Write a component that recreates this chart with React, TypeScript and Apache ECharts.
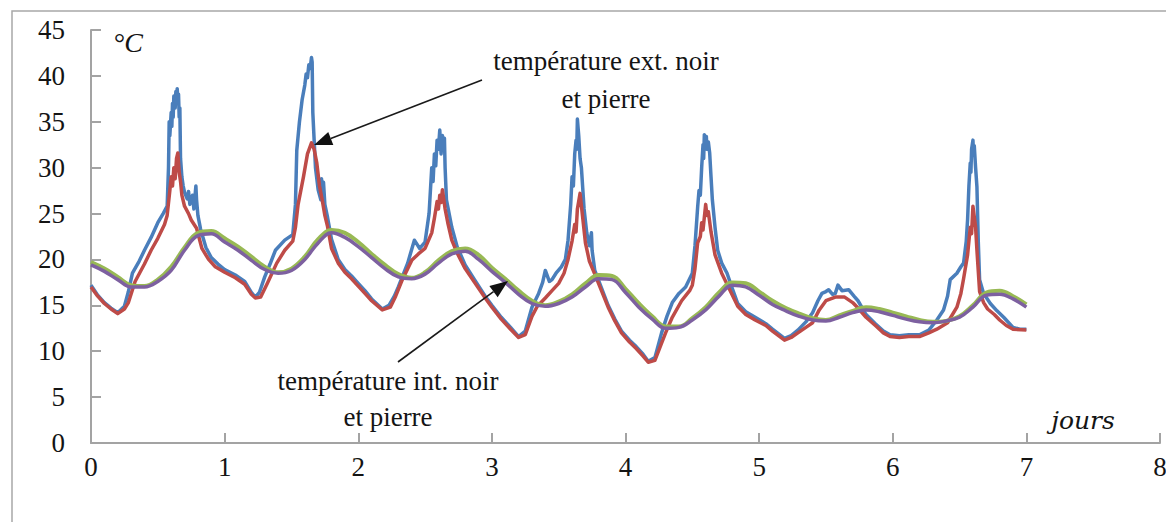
import React, { useEffect, useRef } from "react";
import * as echarts from "echarts";

// Outside surface temperature, black panel (day, °C)
const extNoir: [number, number][] = [
  [0, 17.2], [0.05, 16.1], [0.1, 15.3], [0.15, 14.7], [0.2, 14.2], [0.25, 14.9], [0.28, 16.5],
  [0.31, 18.5], [0.36, 19.8], [0.4, 21.0], [0.45, 22.4], [0.5, 24.0], [0.54, 25.0], [0.57, 25.8],
  [0.58, 30.0], [0.585, 35.0], [0.59, 33.5], [0.6, 36.0], [0.605, 34.5], [0.61, 37.0], [0.615, 35.5],
  [0.62, 37.8], [0.63, 36.5], [0.635, 38.3], [0.64, 37.0], [0.645, 38.6], [0.65, 37.5], [0.655, 38.0],
  [0.66, 35.5], [0.665, 36.5], [0.67, 31.0], [0.68, 29.0], [0.69, 28.0], [0.7, 27.3], [0.72, 26.6],
  [0.73, 27.4], [0.74, 26.0], [0.76, 27.0], [0.77, 25.5], [0.785, 28.0], [0.79, 26.5], [0.8, 24.8],
  [0.82, 23.3], [0.86, 21.3], [0.9, 20.2], [0.95, 19.5], [1.0, 18.9], [1.08, 18.3], [1.15, 17.6],
  [1.2, 16.4], [1.23, 15.9], [1.26, 16.4], [1.3, 18.1], [1.34, 19.5], [1.38, 21.0], [1.45, 22.1],
  [1.51, 22.7], [1.53, 26.0], [1.54, 31.9], [1.56, 35.0], [1.58, 37.4], [1.6, 39.0], [1.61, 40.2],
  [1.62, 39.8], [1.63, 41.2], [1.64, 40.8], [1.65, 42.0], [1.655, 41.5], [1.66, 36.0], [1.67, 33.0],
  [1.68, 30.0], [1.7, 27.6], [1.72, 26.5], [1.725, 28.8], [1.735, 27.0], [1.74, 28.4], [1.75, 26.0],
  [1.77, 24.6], [1.8, 22.2], [1.85, 20.0], [1.9, 18.9], [1.95, 18.2], [2.0, 17.4], [2.05, 16.6],
  [2.1, 15.7], [2.18, 14.6], [2.23, 15.0], [2.27, 16.0], [2.3, 17.0], [2.37, 19.6], [2.42, 22.1],
  [2.46, 21.2], [2.5, 21.9], [2.53, 25.0], [2.55, 30.0], [2.56, 28.5], [2.57, 31.5], [2.58, 30.2],
  [2.59, 33.0], [2.6, 32.0], [2.61, 34.1], [2.62, 31.5], [2.63, 33.5], [2.64, 32.0], [2.645, 33.2],
  [2.65, 30.0], [2.66, 26.5], [2.68, 25.0], [2.7, 23.5], [2.74, 21.4], [2.8, 19.4], [2.87, 17.8],
  [2.95, 16.0], [3.0, 15.0], [3.07, 13.7], [3.14, 12.6], [3.2, 11.6], [3.25, 12.2], [3.3, 14.8],
  [3.35, 16.3], [3.38, 17.5], [3.4, 18.8], [3.43, 17.6], [3.45, 17.8], [3.48, 18.5], [3.52, 19.2],
  [3.55, 20.0], [3.57, 22.1], [3.59, 26.0], [3.6, 29.0], [3.61, 28.0], [3.62, 31.5], [3.63, 33.0],
  [3.635, 32.0], [3.64, 35.3], [3.65, 33.5], [3.66, 31.0], [3.67, 30.0], [3.69, 25.5], [3.71, 22.9],
  [3.73, 21.5], [3.745, 22.9], [3.75, 21.0], [3.77, 18.8], [3.82, 16.9], [3.87, 15.0], [3.92, 13.5],
  [3.97, 12.2], [4.03, 11.2], [4.08, 10.5], [4.13, 9.7], [4.17, 8.9], [4.22, 9.3], [4.27, 12.0],
  [4.31, 13.8], [4.35, 15.3], [4.4, 16.3], [4.45, 17.0], [4.5, 18.5], [4.52, 21.5], [4.54, 25.7],
  [4.55, 27.5], [4.56, 27.0], [4.57, 30.0], [4.58, 32.5], [4.585, 31.0], [4.59, 33.6], [4.6, 32.5],
  [4.605, 33.4], [4.61, 32.0], [4.62, 32.8], [4.63, 31.6], [4.64, 29.0], [4.65, 26.5], [4.67, 23.5],
  [4.69, 21.0], [4.72, 19.6], [4.76, 18.5], [4.8, 16.8], [4.84, 15.2], [4.9, 14.3], [4.97, 13.7],
  [5.05, 13.0], [5.1, 12.4], [5.19, 11.4], [5.24, 11.7], [5.29, 12.3], [5.35, 13.2], [5.4, 14.2],
  [5.44, 15.5], [5.47, 16.3], [5.5, 16.5], [5.52, 16.7], [5.55, 16.2], [5.57, 16.3], [5.59, 17.2],
  [5.62, 16.6], [5.67, 16.7], [5.71, 16.0], [5.74, 15.5], [5.8, 14.0], [5.87, 13.0], [5.93, 12.2],
  [5.98, 11.8], [6.05, 11.7], [6.12, 11.8], [6.2, 11.8], [6.27, 12.3], [6.33, 13.4], [6.38, 14.5],
  [6.41, 16.0], [6.43, 17.8], [6.48, 18.5], [6.51, 19.2], [6.53, 19.6], [6.55, 22.0], [6.56, 24.3],
  [6.57, 28.0], [6.58, 30.5], [6.585, 29.5], [6.59, 32.0], [6.6, 33.0], [6.605, 31.5], [6.61, 32.4],
  [6.62, 30.0], [6.63, 27.9], [6.64, 22.0], [6.65, 17.8], [6.68, 16.3], [6.73, 15.2], [6.78, 14.4],
  [6.83, 13.7], [6.9, 12.6], [6.95, 12.4], [7.0, 12.4],
];

// Outside surface temperature, stone panel (day, °C)
const extPierre: [number, number][] = [
  [0, 17.0], [0.05, 16.0], [0.1, 15.2], [0.15, 14.6], [0.2, 14.1], [0.25, 14.6], [0.28, 15.3],
  [0.33, 17.6], [0.4, 19.5], [0.45, 21.0], [0.5, 22.3], [0.55, 23.8], [0.57, 24.8], [0.59, 27.5],
  [0.6, 29.0], [0.61, 28.0], [0.62, 30.0], [0.63, 28.8], [0.64, 31.0], [0.65, 31.6], [0.66, 29.5],
  [0.67, 28.5], [0.68, 27.0], [0.7, 25.8], [0.73, 25.0], [0.75, 24.3], [0.79, 23.4], [0.83, 21.2],
  [0.88, 20.0], [0.93, 19.2], [1.0, 18.6], [1.08, 18.0], [1.15, 17.3], [1.2, 16.2], [1.23, 15.8],
  [1.27, 15.9], [1.32, 17.4], [1.39, 19.6], [1.45, 21.0], [1.51, 22.0], [1.53, 23.5], [1.55, 26.0],
  [1.59, 29.0], [1.62, 31.5], [1.65, 32.7], [1.67, 32.0], [1.69, 30.5], [1.71, 28.0], [1.73, 26.5],
  [1.75, 24.8], [1.77, 23.6], [1.8, 21.2], [1.85, 19.6], [1.9, 18.6], [1.95, 17.9], [2.0, 17.1],
  [2.05, 16.3], [2.1, 15.5], [2.18, 14.5], [2.24, 14.8], [2.28, 16.0], [2.33, 17.8], [2.4, 19.9],
  [2.45, 20.6], [2.5, 21.2], [2.55, 22.9], [2.57, 24.5], [2.59, 26.3], [2.6, 25.5], [2.61, 27.0],
  [2.62, 26.2], [2.63, 27.6], [2.65, 25.5], [2.67, 24.0], [2.7, 22.1], [2.74, 20.7], [2.8, 19.0],
  [2.87, 17.5], [2.95, 15.8], [3.0, 14.8], [3.07, 13.5], [3.14, 12.4], [3.2, 11.5], [3.25, 11.8],
  [3.3, 13.8], [3.34, 14.9], [3.4, 15.8], [3.45, 16.6], [3.5, 17.4], [3.54, 18.5], [3.57, 20.0],
  [3.6, 22.0], [3.62, 23.8], [3.63, 23.0], [3.64, 25.5], [3.66, 27.2], [3.68, 24.5], [3.7, 21.8],
  [3.73, 19.8], [3.77, 18.4], [3.82, 16.6], [3.87, 14.8], [3.92, 13.3], [3.97, 12.0], [4.03, 11.0],
  [4.08, 10.3], [4.13, 9.5], [4.17, 8.8], [4.22, 9.0], [4.26, 10.5], [4.3, 12.0], [4.35, 13.7],
  [4.42, 15.5], [4.48, 16.6], [4.5, 17.2], [4.52, 19.0], [4.54, 21.8], [4.56, 22.5], [4.57, 24.0],
  [4.58, 23.2], [4.6, 26.0], [4.61, 24.8], [4.62, 25.2], [4.64, 23.0], [4.67, 20.5], [4.72, 18.5],
  [4.77, 17.0], [4.84, 14.9], [4.9, 14.0], [4.97, 13.4], [5.05, 12.8], [5.1, 12.2], [5.19, 11.2],
  [5.24, 11.5], [5.29, 12.0], [5.35, 12.6], [5.4, 13.1], [5.45, 14.5], [5.5, 15.5], [5.57, 15.9],
  [5.64, 15.9], [5.7, 15.3], [5.74, 14.7], [5.8, 13.7], [5.87, 12.8], [5.93, 12.0], [5.98, 11.6],
  [6.05, 11.5], [6.12, 11.6], [6.2, 11.6], [6.27, 12.0], [6.33, 12.4], [6.41, 13.1], [6.48, 14.8],
  [6.51, 16.3], [6.53, 17.9], [6.56, 20.5], [6.58, 23.5], [6.59, 22.8], [6.6, 25.8], [6.62, 23.5],
  [6.63, 21.0], [6.65, 16.5], [6.68, 15.3], [6.71, 14.6], [6.76, 14.0], [6.8, 13.4], [6.85, 12.8],
  [6.9, 12.4], [7.0, 12.3],
];

// Sampling days for the inside temperatures
const intDays: number[] = [
  0, 0.1, 0.2, 0.3, 0.4, 0.5, 0.6, 0.7, 0.8, 0.9,
  1, 1.1, 1.2, 1.3, 1.4, 1.5, 1.6, 1.7, 1.8, 1.9,
  2, 2.1, 2.2, 2.3, 2.4, 2.5, 2.6, 2.7, 2.8, 2.9,
  3, 3.1, 3.2, 3.3, 3.4, 3.5, 3.6, 3.7, 3.8, 3.9,
  4, 4.1, 4.2, 4.3, 4.4, 4.5, 4.6, 4.7, 4.8, 4.9,
  5, 5.1, 5.2, 5.3, 5.4, 5.5, 5.6, 5.7, 5.8, 5.9,
  6, 6.1, 6.2, 6.3, 6.4, 6.5, 6.6, 6.7, 6.8, 6.9,
  7,
];

// Inside temperature, black panel (°C)
const intNoir: number[] = [
  19.7, 19.0, 18.1, 17.2, 17.1, 17.8, 19.2, 21.3, 22.9, 23.1,
  22.3, 21.4, 20.3, 19.2, 18.6, 19.0, 20.3, 22.2, 23.2, 22.9,
  21.9, 20.6, 19.4, 18.4, 18.0, 18.6, 19.9, 20.9, 21.2, 20.5,
  19.1, 17.9, 16.6, 15.5, 15.0, 15.4, 16.2, 17.4, 18.3, 18.2,
  16.8, 15.2, 13.8, 12.7, 12.7, 13.6, 14.8, 16.4, 17.5, 17.4,
  16.5, 15.5, 14.7, 14.1, 13.6, 13.4, 13.9, 14.4, 14.8, 14.6,
  14.2, 13.8, 13.4, 13.2, 13.3, 13.8, 15.0, 16.4, 16.6, 16.0,
  15.1,
];

// Inside temperature, stone panel (°C)
const intPierre: number[] = [
  19.4, 18.7, 17.8, 17.0, 17.0, 17.6, 18.8, 21.0, 22.6, 22.8,
  21.9, 21.0, 19.9, 18.9, 18.5, 18.8, 20.0, 21.8, 22.9, 22.4,
  21.4, 20.2, 19.0, 18.1, 17.9, 18.4, 19.6, 20.6, 20.9, 20.0,
  18.7, 17.5, 16.2, 15.2, 14.9, 15.2, 15.9, 17.0, 17.9, 17.8,
  16.4, 14.8, 13.5, 12.5, 12.6, 13.4, 14.5, 16.0, 17.2, 17.0,
  16.1, 15.1, 14.4, 13.8, 13.4, 13.3, 13.7, 14.2, 14.5, 14.3,
  13.9, 13.5, 13.2, 13.1, 13.3, 13.7, 14.8, 16.1, 16.2, 15.7,
  14.8,
];

const SERIF = "Liberation Serif";
const AXIS_GREY = "#a3a3a3";

function pair(days: number[], values: number[]): [number, number][] {
  return days.map((d, i) => [d, values[i]]);
}

// Filled arrowhead pointing from (x1, y1) to (x2, y2)
function arrow(x1: number, y1: number, x2: number, y2: number, len = 18, half = 7) {
  const dx = x2 - x1;
  const dy = y2 - y1;
  const l = Math.hypot(dx, dy);
  const ux = dx / l;
  const uy = dy / l;
  const bx = x2 - ux * len;
  const by = y2 - uy * len;
  const px = -uy * half;
  const py = ux * half;
  return [
    {
      type: "line",
      shape: { x1, y1, x2: bx, y2: by },
      style: { stroke: "#1a1a1a", lineWidth: 1.6 },
      silent: true,
      z: 100,
    },
    {
      type: "polygon",
      shape: { points: [[x2, y2], [bx + px, by + py], [bx - px, by - py]] },
      style: { fill: "#111" },
      silent: true,
      z: 100,
    },
  ];
}

export default function App() {
  const ref = useRef<HTMLDivElement>(null);

  useEffect(() => {
    if (!ref.current) return;
    const chart = echarts.init(ref.current, null, { renderer: "svg" });

    const lineSeries = (
      name: string,
      data: [number, number][],
      color: string,
      width: number,
      smooth: boolean | number
    ) => ({
      name,
      type: "line",
      data,
      showSymbol: false,
      symbol: "none",
      smooth,
      lineStyle: { color, width, join: "round" },
      itemStyle: { color },
      silent: true,
    });

    chart.setOption({
      animation: false,
      backgroundColor: "#ffffff",
      grid: {
        left: 91,
        top: 30,
        right: 6,
        bottom: 79,
        containLabel: false,
        outerBoundsMode: "none",
      },
      xAxis: {
        type: "value",
        min: 0,
        max: 8,
        interval: 1,
        axisLine: { show: true, onZero: false, lineStyle: { color: AXIS_GREY, width: 2 } },
        axisTick: { show: true, inside: true, length: 10, lineStyle: { color: AXIS_GREY, width: 2 } },
        splitLine: { show: false },
        axisLabel: { margin: 10, color: "#141414", fontFamily: SERIF, fontSize: 27 },
      },
      yAxis: {
        type: "value",
        min: 0,
        max: 45,
        interval: 5,
        axisLine: { show: true, lineStyle: { color: AXIS_GREY, width: 2 } },
        axisTick: { show: true, inside: true, length: 10, lineStyle: { color: AXIS_GREY, width: 2 } },
        splitLine: { show: false },
        axisLabel: { margin: 26, color: "#141414", fontFamily: SERIF, fontSize: 27 },
      },
      series: [
        lineSeries("température ext. noir", extNoir, "#4a7ebb", 3.5, false),
        lineSeries("température ext. pierre", extPierre, "#be4b48", 3.5, false),
        lineSeries("température int. noir", pair(intDays, intNoir), "#98b954", 4, 0.4),
        lineSeries("température int. pierre", pair(intDays, intPierre), "#7d60a0", 3.5, 0.4),
      ],
      graphic: [
        {
          type: "rect",
          shape: { x: 12, y: 11, width: 1300, height: 700 },
          style: { fill: "none", stroke: "#a8a8a8", lineWidth: 1.5 },
          silent: true,
          z: 100,
        },
        {
          type: "text",
          x: 128,
          y: 42,
          style: {
            text: "°C",
            font: "italic 28px Liberation Serif",
            fill: "#141414",
            align: "center",
            verticalAlign: "middle",
          },
          z: 100,
        },
        {
          type: "text",
          x: 1083,
          y: 420,
          style: {
            text: "jours",
            font: "italic 25px DejaVu Serif",
            fill: "#141414",
            align: "center",
            verticalAlign: "middle",
          },
          z: 100,
        },
        {
          type: "text",
          x: 606,
          y: 80,
          style: {
            text: "température ext. noir\net pierre",
            font: "27px Liberation Serif",
            lineHeight: 38,
            fill: "#141414",
            align: "center",
            verticalAlign: "middle",
          },
          z: 100,
        },
        {
          type: "text",
          x: 388,
          y: 399,
          style: {
            text: "température int. noir\net pierre",
            font: "27px Liberation Serif",
            lineHeight: 36,
            fill: "#141414",
            align: "center",
            verticalAlign: "middle",
          },
          z: 100,
        },
        ...arrow(482, 80, 314, 145),
        ...arrow(398, 362, 508, 281),
      ],
    });

    return () => chart.dispose();
  }, []);

  return (
    <div
      ref={ref}
      style={{ position: "absolute", left: 0, top: 0, width: 1166, height: 522, background: "#fff" }}
    />
  );
}
